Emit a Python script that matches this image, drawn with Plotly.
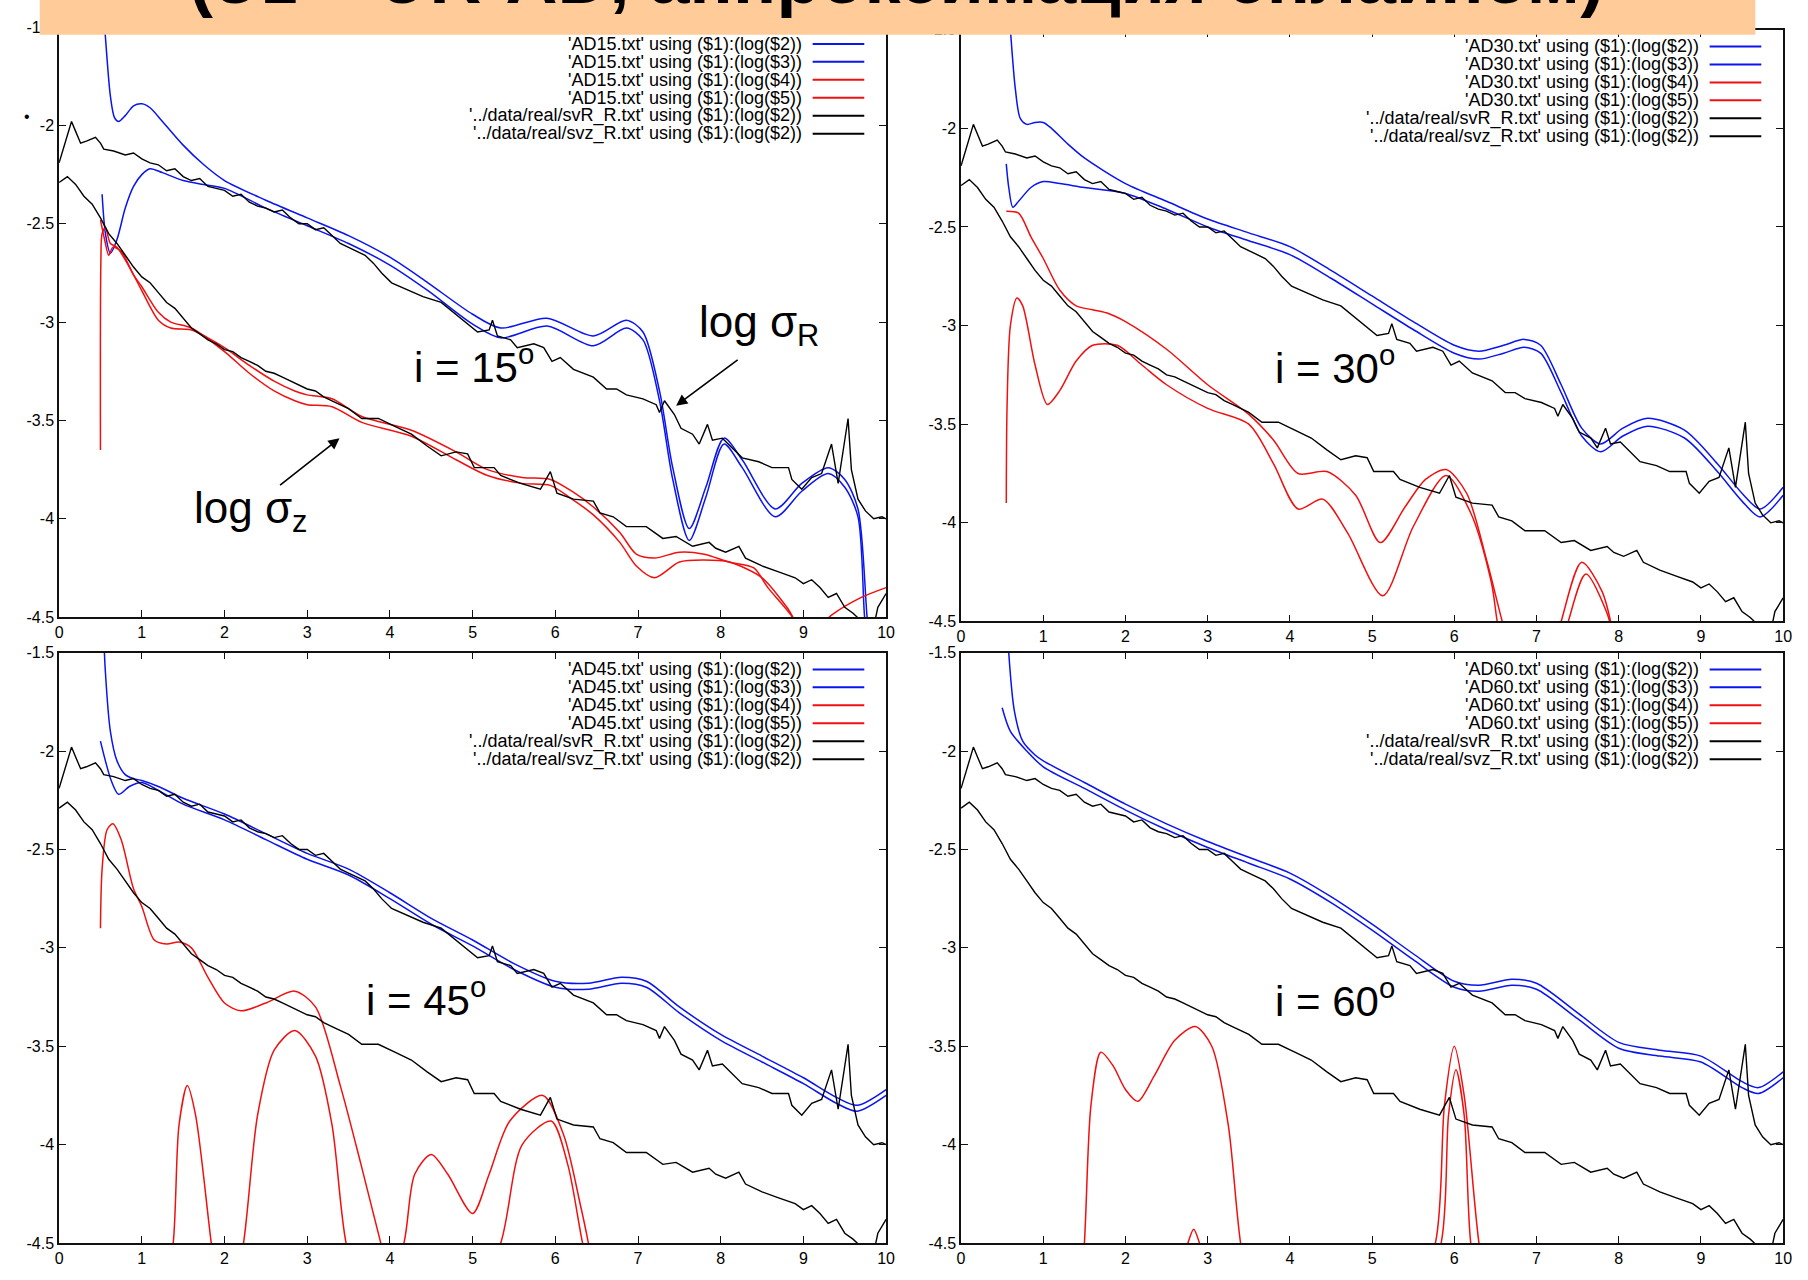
import plotly.graph_objects as go

FIG_W, FIG_H = 1808, 1280

X_RANGE = [0, 10]
Y_RANGE = [-4.5, -1.5]
X_TICKS = list(range(0, 11))
Y_TICKS = [-4.5, -4.0, -3.5, -3.0, -2.5, -2.0, -1.5]
Y_TICK_TEXT = ["-4.5", "-4", "-3.5", "-3", "-2.5", "-2", "-1.5"]

# observed profiles (same in every panel)
SVR_X = [0.0, 0.05, 0.1, 0.15, 0.2, 0.26, 0.33, 0.44, 0.5, 0.54, 0.66, 0.8, 0.9, 1.0, 1.1, 1.2, 1.3,
         1.4, 1.5, 1.6, 1.7, 1.8, 1.9, 2.0, 2.1, 2.2, 2.3, 2.4, 2.5, 2.6, 2.7, 2.8, 2.9, 3.0, 3.1,
         3.2, 3.3, 3.4, 3.5, 3.6, 3.7, 3.8, 3.9, 4.02, 4.18, 4.4, 4.62, 4.8, 5.06, 5.2, 5.24, 5.3,
         5.46, 5.54, 5.74, 5.86, 5.96, 6.06, 6.22, 6.46, 6.62, 6.74, 6.86, 7.06, 7.22, 7.26, 7.32,
         7.44, 7.52, 7.66, 7.74, 7.84, 7.9, 8.02, 8.14, 8.26, 8.46, 8.62, 8.82, 8.86, 8.98, 9.1,
         9.22, 9.34, 9.42, 9.54, 9.58, 9.66, 9.75, 9.85, 9.95, 10.0]
SVR_Y = [-2.19, -2.12, -2.05, -1.98, -2.03, -2.09, -2.08, -2.06, -2.09, -2.12, -2.13, -2.15, -2.14,
         -2.17, -2.19, -2.2, -2.23, -2.22, -2.26, -2.28, -2.27, -2.31, -2.32, -2.33, -2.36, -2.35,
         -2.39, -2.41, -2.42, -2.44, -2.43, -2.47, -2.5, -2.5, -2.53, -2.52, -2.56, -2.6, -2.62,
         -2.64, -2.66, -2.7, -2.75, -2.8, -2.83, -2.87, -2.9, -2.96, -3.05, -3.04, -2.99, -3.07,
         -3.09, -3.13, -3.11, -3.13, -3.2, -3.18, -3.24, -3.28, -3.34, -3.34, -3.37, -3.39, -3.42,
         -3.46, -3.4, -3.47, -3.54, -3.57, -3.62, -3.52, -3.6, -3.59, -3.64, -3.69, -3.71, -3.74,
         -3.74, -3.8, -3.85, -3.79, -3.77, -3.62, -3.82, -3.49, -3.75, -3.9, -3.96, -4.0, -3.99, -4.0]

SVZ_X = [0.0, 0.1, 0.2, 0.3, 0.4, 0.5, 0.6, 0.7, 0.8, 0.9, 1.0, 1.1, 1.2, 1.3, 1.4, 1.5, 1.6, 1.7,
         1.8, 1.9, 2.0, 2.1, 2.2, 2.3, 2.4, 2.5, 2.6, 2.7, 2.8, 2.9, 3.0, 3.1, 3.2, 3.3, 3.4, 3.5,
         3.66, 3.86, 4.06, 4.26, 4.45, 4.62, 4.8, 4.94, 5.02, 5.26, 5.34, 5.58, 5.82, 5.94, 6.02,
         6.22, 6.46, 6.54, 6.7, 6.86, 7.1, 7.3, 7.46, 7.66, 7.86, 7.94, 8.06, 8.22, 8.3, 8.5, 8.7,
         8.9, 9.0, 9.1, 9.2, 9.3, 9.4, 9.5, 9.6, 9.7, 9.85, 9.9, 10.0]
SVZ_Y = [-2.29, -2.26, -2.3, -2.36, -2.4, -2.47, -2.55, -2.6, -2.66, -2.72, -2.77, -2.8, -2.85,
         -2.9, -2.93, -2.98, -3.03, -3.06, -3.09, -3.11, -3.14, -3.15, -3.18, -3.2, -3.22, -3.25,
         -3.26, -3.28, -3.3, -3.32, -3.34, -3.35, -3.38, -3.4, -3.42, -3.44, -3.49, -3.49, -3.53,
         -3.57, -3.63, -3.68, -3.66, -3.67, -3.74, -3.74, -3.78, -3.82, -3.85, -3.76, -3.87, -3.9,
         -3.91, -3.97, -3.99, -4.04, -4.04, -4.1, -4.09, -4.14, -4.12, -4.15, -4.17, -4.14, -4.2,
         -4.24, -4.27, -4.3, -4.33, -4.31, -4.35, -4.4, -4.38, -4.45, -4.48, -4.52, -4.55, -4.45,
         -4.38]

# ---- model AD15 (i = 15) ----
AD15_S2_X = [0.5, 0.56, 0.62, 0.67, 0.72, 0.8, 0.9, 1.0, 1.1, 1.25, 1.5, 1.75, 2.0, 2.5, 3.0, 3.5,
             4.0, 4.46, 5.0, 5.34, 5.9, 6.46, 6.86, 7.06, 7.26, 7.42, 7.62, 7.82, 8.04, 8.26, 8.66,
             8.98, 9.3, 9.5, 9.66, 9.77, 9.82]
AD15_S2_Y = [-1.2, -1.55, -1.85, -1.96, -1.98, -1.95, -1.9, -1.89, -1.91, -1.98, -2.1, -2.2, -2.28,
             -2.38, -2.47, -2.56, -2.67, -2.8, -2.96, -3.03, -2.98, -3.07, -2.99, -3.05, -3.35,
             -3.74, -4.05, -3.84, -3.59, -3.7, -3.95, -3.82, -3.74, -3.8, -3.95, -4.5, -4.7]
AD15_S3_X = [0.52, 0.56, 0.62, 0.7, 0.8, 0.9, 1.0, 1.1, 1.25, 1.5, 1.75, 2.0, 2.5, 3.0, 3.5, 4.0,
             4.46, 5.0, 5.34, 5.9, 6.46, 6.86, 7.06, 7.26, 7.42, 7.62, 7.82, 8.04, 8.26, 8.66, 8.98,
             9.3, 9.5, 9.66, 9.74, 9.8]
AD15_S3_Y = [-2.35, -2.55, -2.65, -2.58, -2.42, -2.31, -2.25, -2.22, -2.24, -2.28, -2.3, -2.32,
             -2.42, -2.51, -2.6, -2.71, -2.84, -3.01, -3.08, -3.02, -3.12, -3.03, -3.09, -3.4,
             -3.8, -4.11, -3.89, -3.62, -3.74, -3.99, -3.86, -3.77, -3.84, -3.99, -4.5, -4.7]
AD15_S4_X = [0.5, 0.505, 0.52, 0.56, 0.62, 0.7, 0.85, 1.0, 1.2, 1.35, 1.6, 1.8, 2.0, 2.3, 2.6, 2.85,
             3.0, 3.3, 3.66, 4.26, 4.8, 5.18, 5.6, 5.94, 6.2, 6.46, 6.78, 6.98, 7.2, 7.5, 7.8, 8.1,
             8.4, 8.57, 8.85, 9.0]
AD15_S4_Y = [-3.65, -2.7, -2.55, -2.52, -2.6, -2.62, -2.72, -2.84, -2.99, -3.03, -3.04, -3.08,
             -3.13, -3.22, -3.3, -3.35, -3.37, -3.39, -3.48, -3.55, -3.66, -3.75, -3.79, -3.8,
             -3.86, -3.94, -4.07, -4.18, -4.2, -4.17, -4.18, -4.22, -4.25, -4.35, -4.49, -4.6]
AD15_S5_X = [0.5, 0.55, 0.6, 0.65, 0.75, 0.9, 1.0, 1.2, 1.35, 1.6, 2.0, 2.3, 2.6, 2.85, 3.0, 3.3,
             3.66, 4.26, 4.8, 5.18, 5.6, 5.94, 6.2, 6.46, 6.78, 6.98, 7.2, 7.5, 7.8, 8.1, 8.5, 8.8,
             9.05, 9.34, 9.7, 10.0]
AD15_S5_Y = [-2.48, -2.58, -2.66, -2.62, -2.64, -2.76, -2.82, -2.95, -3.0, -3.03, -3.15, -3.26,
             -3.35, -3.4, -3.42, -3.43, -3.51, -3.58, -3.7, -3.78, -3.82, -3.83, -3.9, -3.98, -4.12,
             -4.24, -4.3, -4.22, -4.21, -4.22, -4.3, -4.45, -4.6, -4.49, -4.4, -4.35]

# ---- model AD30 (i = 30) ----
AD30_S2_X = [0.55, 0.6, 0.66, 0.72, 0.8, 0.9, 1.0, 1.1, 1.3, 1.5, 2.0, 2.5, 3.0, 3.5, 4.0, 4.5,
             5.0, 5.5, 6.0, 6.3, 6.6, 6.85, 7.05, 7.3, 7.55, 7.78, 8.05, 8.35, 8.8, 9.2, 9.5, 9.72,
             10.0]
AD30_S2_Y = [-1.2, -1.5, -1.8, -1.95, -1.98, -1.97, -1.97, -2.0, -2.08, -2.15, -2.28, -2.37, -2.46,
             -2.53, -2.6, -2.72, -2.85, -2.98, -3.1, -3.13, -3.1, -3.07, -3.1, -3.3, -3.52, -3.6,
             -3.52, -3.47, -3.53, -3.7, -3.85, -3.93, -3.82]
AD30_S3_X = [0.55, 0.58, 0.63, 0.7, 0.85, 1.0, 1.2, 1.5, 2.0, 2.5, 3.0, 3.5, 4.0, 4.5, 5.0, 5.5,
             6.0, 6.3, 6.6, 6.85, 7.05, 7.3, 7.55, 7.78, 8.05, 8.35, 8.8, 9.2, 9.5, 9.72, 10.0]
AD30_S3_Y = [-2.18, -2.3, -2.4, -2.37, -2.3, -2.27, -2.28, -2.3, -2.33, -2.41, -2.5, -2.57, -2.64,
             -2.76, -2.89, -3.02, -3.14, -3.17, -3.14, -3.11, -3.14, -3.34, -3.56, -3.64, -3.56,
             -3.51, -3.57, -3.74, -3.89, -3.97, -3.86]
AD30_S4_X = [0.55, 0.56, 0.6, 0.68, 0.75, 0.9, 1.05, 1.2, 1.4, 1.6, 1.9, 2.2, 2.5, 3.0, 3.5, 3.8,
             4.1, 4.4, 4.7, 5.13, 5.5, 5.9, 6.2, 6.45, 6.57, 7.0, 7.35, 7.6, 7.85, 7.95]
AD30_S4_Y = [-3.9, -3.4, -3.0, -2.86, -2.9, -3.2, -3.4, -3.33, -3.18, -3.1, -3.1, -3.2, -3.3, -3.42,
             -3.5, -3.7, -3.93, -3.88, -4.05, -4.37, -4.02, -3.76, -3.95, -4.3, -4.6, -5.0, -4.55,
             -4.26, -4.45, -4.6]
AD30_S5_X = [0.55, 0.7, 0.85, 1.0, 1.2, 1.4, 1.6, 1.8, 2.0, 2.5, 3.0, 3.5, 3.8, 4.1, 4.45, 4.8, 5.1,
             5.4, 5.65, 5.9, 6.15, 6.4, 6.65, 7.0, 7.3, 7.55, 7.8, 7.95]
AD30_S5_Y = [-2.42, -2.43, -2.55, -2.66, -2.82, -2.9, -2.92, -2.94, -2.98, -3.12, -3.3, -3.45,
             -3.58, -3.75, -3.74, -3.86, -4.1, -3.92, -3.78, -3.73, -3.85, -4.2, -4.6, -5.0, -4.5,
             -4.2, -4.35, -4.6]

# ---- model AD45 (i = 45) ----
AD45_S2_X = [0.52, 0.56, 0.62, 0.7, 0.8, 0.9, 1.0, 1.2, 1.5, 2.0, 2.5, 3.0, 3.5, 4.0, 4.5, 5.0, 5.5,
             6.0, 6.4, 6.8, 7.1, 7.5, 8.0, 8.5, 9.0, 9.4, 9.65, 10.0]
AD45_S2_Y = [-1.2, -1.6, -1.9, -2.05, -2.12, -2.14, -2.15, -2.18, -2.24, -2.32, -2.42, -2.52, -2.6,
             -2.72, -2.85, -2.96, -3.08, -3.17, -3.18, -3.15, -3.17, -3.3, -3.44, -3.55, -3.66,
             -3.76, -3.8, -3.72]
AD45_S3_X = [0.5, 0.56, 0.63, 0.72, 0.85, 1.0, 1.2, 1.5, 2.0, 2.5, 3.0, 3.5, 4.0, 4.5, 5.0, 5.5,
             6.0, 6.4, 6.8, 7.1, 7.5, 8.0, 8.5, 9.0, 9.4, 9.65, 10.0]
AD45_S3_Y = [-1.95, -2.05, -2.15, -2.22, -2.18, -2.16, -2.2, -2.27, -2.35, -2.45, -2.55, -2.63,
             -2.75, -2.88, -2.99, -3.11, -3.2, -3.21, -3.18, -3.2, -3.33, -3.47, -3.58, -3.69,
             -3.79, -3.83, -3.75]
AD45_S4_X = [0.5, 0.52, 0.58, 0.65, 0.75, 0.9, 1.0, 1.15, 1.3, 1.45, 1.6, 1.8, 2.0, 2.2, 2.5, 2.85,
             3.1, 3.4, 3.65, 3.89, 4.2, 4.8, 5.34, 5.6, 5.95, 6.15, 6.33, 6.5]
AD45_S4_Y = [-2.9, -2.6, -2.4, -2.37, -2.45, -2.7, -2.79, -2.96, -2.98, -2.97, -3.0, -3.15, -3.28,
             -3.32, -3.28, -3.22, -3.3, -3.7, -4.1, -4.5, -5.0, -5.0, -4.5, -4.0, -3.88, -4.1,
             -4.5, -4.8]
AD45_S5_X = [0.5, 1.2, 1.38, 1.45, 1.55, 1.65, 1.84, 2.0, 2.23, 2.4, 2.6, 2.85, 3.1, 3.3, 3.47, 3.8,
             4.17, 4.3, 4.5, 4.7, 5.0, 5.2, 5.45, 5.85, 6.1, 6.3, 6.4, 6.6]
AD45_S5_Y = [-5.5, -5.0, -4.5, -3.9, -3.7, -3.85, -4.5, -5.0, -4.5, -3.85, -3.52, -3.42, -3.55,
             -3.9, -4.5, -5.0, -4.5, -4.15, -4.05, -4.15, -4.35, -4.15, -3.88, -3.75, -3.95, -4.3,
             -4.5, -5.0]

# ---- model AD60 (i = 60) ----
AD60_S2_X = [0.55, 0.58, 0.65, 0.75, 0.9, 1.0, 1.5, 2.0, 2.5, 3.0, 3.5, 4.0, 4.5, 5.0, 5.5, 6.0,
             6.3, 6.7, 7.0, 7.5, 8.0, 8.5, 9.0, 9.5, 9.7, 10.0]
AD60_S2_Y = [-1.2, -1.5, -1.8, -1.95, -2.02, -2.05, -2.16, -2.27, -2.37, -2.46, -2.54, -2.62,
             -2.74, -2.88, -3.03, -3.17, -3.19, -3.16, -3.18, -3.33, -3.48, -3.52, -3.55, -3.68,
             -3.71, -3.63]
AD60_S3_X = [0.5, 0.6, 0.8, 1.0, 1.5, 2.0, 2.5, 3.0, 3.5, 4.0, 4.5, 5.0, 5.5, 6.0, 6.3, 6.7, 7.0,
             7.5, 8.0, 8.5, 9.0, 9.5, 9.7, 10.0]
AD60_S3_Y = [-1.78, -1.9, -2.0, -2.08, -2.19, -2.3, -2.4, -2.49, -2.57, -2.65, -2.77, -2.91, -3.06,
             -3.2, -3.22, -3.19, -3.21, -3.36, -3.51, -3.55, -3.58, -3.71, -3.74, -3.66]
AD60_S4_X = [0.5, 1.0, 1.4, 1.5, 1.58, 1.7, 1.85, 2.0, 2.15, 2.35, 2.6, 2.85, 3.05, 3.25, 3.4, 3.7,
             4.5, 5.3, 5.77, 5.88, 6.0, 6.12, 6.3, 6.5]
AD60_S4_Y = [-6.0, -5.5, -5.0, -4.5, -3.8, -3.53, -3.6, -3.72, -3.78, -3.65, -3.47, -3.4, -3.5,
             -3.9, -4.5, -5.2, -5.5, -5.0, -4.5, -3.8, -3.5, -3.75, -4.5, -5.0]
AD60_S5_X = [0.5, 2.5, 2.76, 2.83, 2.9, 3.2, 5.4, 5.84, 5.93, 6.02, 6.12, 6.2, 6.4]
AD60_S5_Y = [-6.0, -5.0, -4.5, -4.43, -4.5, -5.0, -5.0, -4.5, -3.85, -3.62, -3.85, -4.5, -5.0]

MODELS = ["AD15", "AD30", "AD45", "AD60"]
INCLINATIONS = [15, 30, 45, 60]
SERIES = {
    "AD15": [(AD15_S2_X, AD15_S2_Y), (AD15_S3_X, AD15_S3_Y), (AD15_S4_X, AD15_S4_Y), (AD15_S5_X, AD15_S5_Y)],
    "AD30": [(AD30_S2_X, AD30_S2_Y), (AD30_S3_X, AD30_S3_Y), (AD30_S4_X, AD30_S4_Y), (AD30_S5_X, AD30_S5_Y)],
    "AD45": [(AD45_S2_X, AD45_S2_Y), (AD45_S3_X, AD45_S3_Y), (AD45_S4_X, AD45_S4_Y), (AD45_S5_X, AD45_S5_Y)],
    "AD60": [(AD60_S2_X, AD60_S2_Y), (AD60_S3_X, AD60_S3_Y), (AD60_S4_X, AD60_S4_Y), (AD60_S5_X, AD60_S5_Y)],
}

BLUE = "#0a14f0"
RED = "#f01010"
BLACK = "#000000"
MODEL_COLORS = [BLUE, BLUE, RED, RED]
FONT = "Liberation Sans, Arial, Helvetica, sans-serif"

# pixel frames of the four plot areas: left, right, top, bottom
FRAMES = [
    (55.5, 888.5, 19.4, 617.3),
    (964.0, 1792.0, 22.0, 621.7),
    (55.5, 888.5, 653.3, 1251.7),
    (964.0, 1792.0, 653.3, 1251.7),
]
LABEL_POS = [(473, 361), (1341, 362), (425, 1002), (1341, 1003)]


def px(x):
    return x / FIG_W


def py(y):
    return 1 - y / FIG_H


fig = go.Figure()
annotations = []
shapes = []

for k, (name, inc, frame) in enumerate(zip(MODELS, INCLINATIONS, FRAMES)):
    sfx = "" if k == 0 else str(k + 1)
    xa, ya = "x" + sfx, "y" + sfx
    left, right, top, bottom = frame

    for j, ((xs, ys), col) in enumerate(zip(SERIES[name], MODEL_COLORS)):
        fig.add_trace(go.Scatter(x=xs, y=ys, mode="lines", xaxis=xa, yaxis=ya,
                                 line=dict(color=col, width=1.5, shape="spline", smoothing=0.8),
                                 showlegend=False, hoverinfo="skip"))
    for xs, ys in ((SVR_X, SVR_Y), (SVZ_X, SVZ_Y)):
        fig.add_trace(go.Scatter(x=xs, y=ys, mode="lines", xaxis=xa, yaxis=ya,
                                 line=dict(color=BLACK, width=1.4),
                                 showlegend=False, hoverinfo="skip"))

    axis_common = dict(showline=True, linecolor="#111", linewidth=1.6, mirror="allticks",
                       ticks="inside", ticklen=7, tickwidth=1.3, tickcolor="#111",
                       showgrid=False, zeroline=False,
                       tickfont=dict(family=FONT, size=16, color="#000"))
    fig.layout["xaxis" + sfx] = dict(domain=[px(left), px(right)], range=X_RANGE,
                                     anchor=ya, tickvals=X_TICKS, **axis_common)
    fig.layout["yaxis" + sfx] = dict(domain=[py(bottom), py(top)], range=Y_RANGE,
                                     anchor=xa, tickvals=Y_TICKS, ticktext=Y_TICK_TEXT,
                                     **axis_common)

    # gnuplot-style key: text right-aligned, sample line to its right
    labels = [f"'{name}.txt' using ($1):(log(${c}))" for c in (2, 3, 4, 5)] + [
        "'../data/real/svR_R.txt' using ($1):(log($2))",
        "'../data/real/svz_R.txt' using ($1):(log($2))",
    ]
    colors = MODEL_COLORS + [BLACK, BLACK]
    for r, (lab, col) in enumerate(zip(labels, colors)):
        yy = top + 17 + 18.2 * r
        annotations.append(dict(text=lab, x=px(right - 83), y=py(yy), xref="paper", yref="paper",
                                xanchor="right", yanchor="middle", showarrow=False,
                                font=dict(family=FONT, size=18, color="#000")))
        shapes.append(dict(type="line", xref="paper", yref="paper",
                           x0=px(right - 74), x1=px(right - 22), y0=py(yy), y1=py(yy),
                           line=dict(color=col, width=2)))

    lx, ly = LABEL_POS[k]
    annotations.append(dict(text=f"i = {inc}<sup>o</sup>", x=px(lx), y=py(ly),
                            xref="paper", yref="paper", xanchor="center", yanchor="middle",
                            showarrow=False, font=dict(family=FONT, size=42, color="#000")))

# curve labels with arrows in the first panel
annotations.append(dict(text="log σ<sub>R</sub>", x=px(760), y=py(321), xref="paper", yref="paper",
                        xanchor="center", yanchor="middle", showarrow=False,
                        font=dict(family=FONT, size=44, color="#000")))
annotations.append(dict(text="log σ<sub>z</sub>", x=px(249), y=py(510), xref="paper", yref="paper",
                        xanchor="center", yanchor="middle", showarrow=False,
                        font=dict(family=FONT, size=44, color="#000")))
annotations.append(dict(text="", x=px(677), y=py(403), xref="paper", yref="paper",
                        showarrow=True, ax=63, ay=-47, arrowhead=2, arrowsize=1.4,
                        arrowwidth=1.6, arrowcolor="#000", standoff=0))
annotations.append(dict(text="", x=px(338), y=py(436), xref="paper", yref="paper",
                        showarrow=True, ax=-61, ay=48, arrowhead=2, arrowsize=1.4,
                        arrowwidth=1.6, arrowcolor="#000", standoff=0))
annotations.append(dict(text="•", x=px(23), y=py(110), xref="paper", yref="paper",
                        xanchor="center", yanchor="middle", showarrow=False,
                        font=dict(family=FONT, size=16, color="#000")))

# slide heading band across the top
shapes.append(dict(type="rect", xref="paper", yref="paper", x0=px(36), x1=px(1764),
                   y0=py(27), y1=1.02, fillcolor="#FFCC99", line=dict(width=0), layer="above"))
annotations.append(dict(text="(σz = σR·AD, аппроксимация сплайном)", x=px(899), y=py(-30),
                        xref="paper", yref="paper", xanchor="center", yanchor="middle",
                        showarrow=False,
                        font=dict(family=FONT, size=72, color="#000", weight="bold")))

fig.update_layout(width=FIG_W, height=FIG_H, margin=dict(l=0, r=0, t=0, b=0),
                  paper_bgcolor="white", plot_bgcolor="white",
                  annotations=annotations, shapes=shapes, showlegend=False)

fig.write_html("out.html")
